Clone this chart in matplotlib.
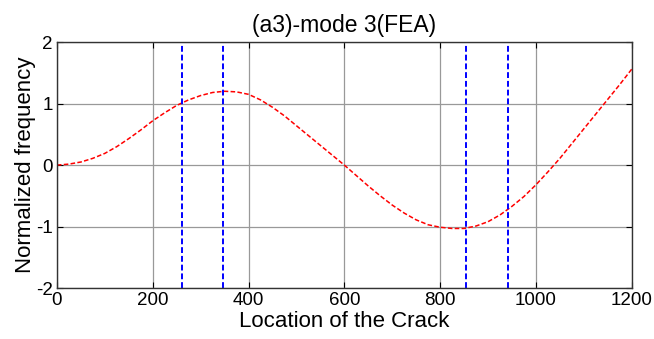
import matplotlib
matplotlib.use('Agg')
import matplotlib.pyplot as plt

plt.rcParams['font.family'] = ['Liberation Sans', 'DejaVu Sans']
plt.rcParams['axes.unicode_minus'] = False

# normalized frequency change vs crack location, mode 3
loc = list(range(0, 1201, 25))
freq = [0.0, 0.016, 0.05, 0.11, 0.19, 0.30, 0.43, 0.57, 0.72, 0.85,
        0.97, 1.06, 1.13, 1.18, 1.20, 1.19, 1.15, 1.06, 0.94, 0.80,
        0.64, 0.48, 0.32, 0.16, 0.0, -0.17, -0.34, -0.50, -0.65, -0.78,
        -0.89, -0.97, -1.01, -1.03, -1.03, -0.99, -0.92, -0.81, -0.67, -0.51,
        -0.32, -0.11, 0.11, 0.35, 0.59, 0.83, 1.07, 1.31, 1.56]

# boundaries of the zones
bounds = [261, 347, 855, 941]

fig = plt.figure(figsize=(6.54, 3.39), dpi=100)
ax = fig.add_axes([0.087, 0.150, 0.879, 0.726])

ax.plot(loc, freq, 'r--', lw=1.1, dashes=(3, 1.5))
for b in bounds:
    ax.axvline(b, color='b', ls='--', lw=1.4, dashes=(3, 1.5))

ax.set_xlim(0, 1200)
ax.set_ylim(-2, 2)
ax.set_xticks(range(0, 1201, 200))
ax.set_yticks([-2, -1, 0, 1, 2])
ax.grid(True, color='#999999', lw=0.9)
ax.tick_params(direction='in', top=True, right=True, labelsize=13.5, pad=3, length=4)
for s in ax.spines.values():
    s.set_linewidth(1.0)
    s.set_color('#333333')

ax.set_title('(a3)-mode 3(FEA)', fontsize=16.5, pad=7)
ax.set_xlabel('Location of the Crack', fontsize=16, labelpad=1)
ax.set_ylabel('Normalized frequency', fontsize=16, labelpad=0)

fig.savefig('out.png', dpi=100)
